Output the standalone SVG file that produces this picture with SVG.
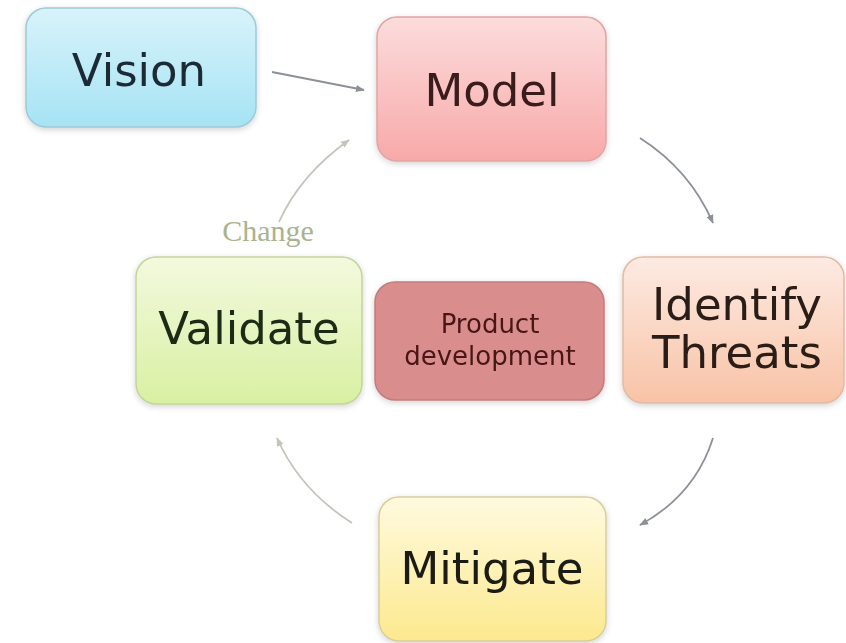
<svg xmlns="http://www.w3.org/2000/svg" width="846" height="643" viewBox="0 0 846 643">
<defs>
<linearGradient id="gVision" x1="0" y1="0" x2="0" y2="1"><stop offset="0" stop-color="#d8f3fb"/><stop offset="1" stop-color="#a6e3f4"/></linearGradient>
<linearGradient id="gModel" x1="0" y1="0" x2="0" y2="1"><stop offset="0" stop-color="#fcdcdc"/><stop offset="1" stop-color="#f8a9a9"/></linearGradient>
<linearGradient id="gIdent" x1="0" y1="0" x2="0" y2="1"><stop offset="0" stop-color="#fdeae2"/><stop offset="1" stop-color="#f8c3a6"/></linearGradient>
<linearGradient id="gValid" x1="0" y1="0" x2="0" y2="1"><stop offset="0" stop-color="#f3f9de"/><stop offset="1" stop-color="#d9f0a2"/></linearGradient>
<linearGradient id="gMitig" x1="0" y1="0" x2="0" y2="1"><stop offset="0" stop-color="#fffadf"/><stop offset="1" stop-color="#fce98e"/></linearGradient>
<filter id="sh" x="-10%" y="-10%" width="120%" height="125%"><feGaussianBlur in="SourceAlpha" stdDeviation="3"/><feOffset dy="2"/><feComponentTransfer><feFuncA type="linear" slope="0.18"/></feComponentTransfer><feMerge><feMergeNode/><feMergeNode in="SourceGraphic"/></feMerge></filter>
<marker id="ahDark" viewBox="0 0 10 10" refX="9" refY="5" markerWidth="5" markerHeight="5" orient="auto"><path d="M0,1 L10,5 L0,9 z" fill="#8c9098"/></marker>
<marker id="ahLight" viewBox="0 0 10 10" refX="9" refY="5" markerWidth="5" markerHeight="5" orient="auto"><path d="M0,1 L10,5 L0,9 z" fill="#c4c4bc"/></marker>
</defs>
<style>
.box{stroke-width:1.5}
.t{font-family:"DejaVu Sans","Verdana",sans-serif;text-anchor:middle}
.big{font-size:45px}
.conn{fill:none;stroke-width:1.8}
.dark{stroke:#8c9098}
.light{stroke:#c4c4bc}
</style>
<rect width="846" height="643" fill="#ffffff"/>
<g id="connectors">
<path class="conn dark" d="M272,72 L364,90" marker-end="url(#ahDark)"/>
<path class="conn light" d="M279,222 Q300,175 349,140" marker-end="url(#ahLight)"/>
<path class="conn dark" d="M640,138 Q690,170 713,223" marker-end="url(#ahDark)"/>
<path class="conn dark" d="M713,438 Q695,495 640,525" marker-end="url(#ahDark)"/>
<path class="conn light" d="M352,523 Q300,490 277,438" marker-end="url(#ahLight)"/>
</g>
<g id="vision" filter="url(#sh)">
<rect class="box" x="26" y="8" width="230" height="119" rx="20" fill="url(#gVision)" stroke="#9ccad6"/>
<text class="t big" x="139" y="86" fill="#1b2a36" font-size="46">Vision</text>
</g>
<g id="model" filter="url(#sh)">
<rect class="box" x="377" y="17" width="229" height="144" rx="20" fill="url(#gModel)" stroke="#e2a4a4"/>
<text class="t big" x="492" y="106" fill="#3a1a1a">Model</text>
</g>
<g id="identify" filter="url(#sh)">
<rect class="box" x="623" y="257" width="221" height="146" rx="20" fill="url(#gIdent)" stroke="#e0bba4"/>
<text class="t big" x="737" y="320" fill="#2a1a12">Identify</text>
<text class="t big" x="737" y="368" fill="#2a1a12">Threats</text>
</g>
<g id="validate" filter="url(#sh)">
<rect class="box" x="136" y="257" width="226" height="147" rx="20" fill="url(#gValid)" stroke="#c3d49c"/>
<text class="t big" x="249" y="344" fill="#1c2a12">Validate</text>
</g>
<g id="product" filter="url(#sh)">
<rect class="box" x="375" y="282" width="229" height="118" rx="20" fill="#d98d8d" stroke="#c27c7c"/>
<text class="t" x="490" y="333" font-size="26" fill="#4a1616">Product</text>
<text class="t" x="490" y="365" font-size="26" fill="#4a1616">development</text>
</g>
<g id="mitigate" filter="url(#sh)">
<rect class="box" x="379" y="497" width="227" height="144" rx="20" fill="url(#gMitig)" stroke="#d8cd9c"/>
<text class="t big" x="492" y="584" fill="#1c1a12">Mitigate</text>
</g>
<text x="268" y="241" font-family="Liberation Serif, serif" font-size="30" fill="#a9b38f" text-anchor="middle">Change</text>
</svg>
